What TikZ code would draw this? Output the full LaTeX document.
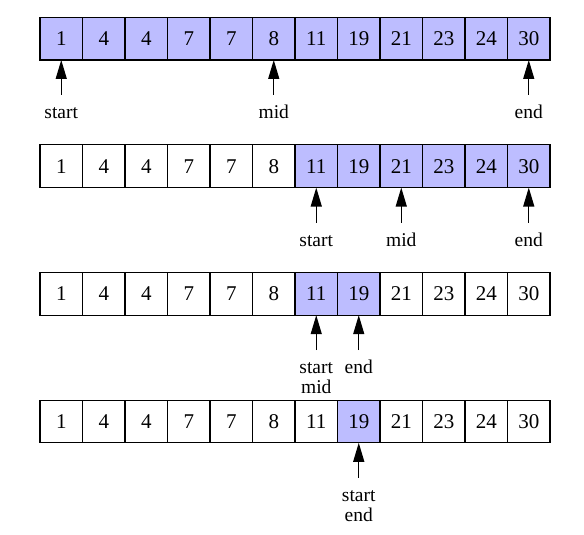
\documentclass[tikz,border=0pt]{standalone}
\usepackage{fontspec}
\setmainfont{Liberation Serif}
\usetikzlibrary{arrows.meta}
\definecolor{cellfill}{RGB}{189,189,255}
\begin{document}
\begin{tikzpicture}[x=1pt,y=-1pt,
  cell/.style={draw=black, line width=1.1pt, minimum width=42.5pt, minimum height=42.7pt,
    inner sep=0pt, outer sep=0pt, font=\fontsize{21}{24}\selectfont},
  hot/.style={cell, fill=cellfill},
  ptr/.style={inner sep=0pt, anchor=north, align=center, font=\fontsize{19.5}{20}\selectfont},
  arr/.style={-{Triangle[length=19pt,width=11pt]}, line width=1.3pt, shorten <=10pt}]
\useasboundingbox (0,0) rectangle (584,535);
\def\vals{1,4,4,7,7,8,11,19,21,23,24,30}
\foreach \r/\lo/\hi in {1/1/12, 2/7/12, 3/7/8, 4/8/8} {
  \foreach \v [count=\c] in \vals {
    \pgfmathtruncatemacro\isin{(\c>=\lo)&&(\c<=\hi)}
    \ifnum\isin=1 \def\sty{hot}\else\def\sty{cell}\fi
    \node[\sty] (r\r c\c) at ({40+42.5*(\c-0.5)}, {17.3+127.6*(\r-1)+21.35}) {\v};
  }
}
\foreach \cl/\txt [count=\i] in {r1c1/start, r1c6/mid, r1c12/end,
    r2c7/start, r2c9/mid, r2c12/end,
    r3c7/start\\mid, r3c8/end, r4c8/start\\end} {
  \node[ptr] (p\i) at ([yshift=-45pt]\cl.south) {\vphantom{d}\txt};
  \draw[arr] (p\i.north) -- (\cl.south);
}
\end{tikzpicture}
\end{document}
